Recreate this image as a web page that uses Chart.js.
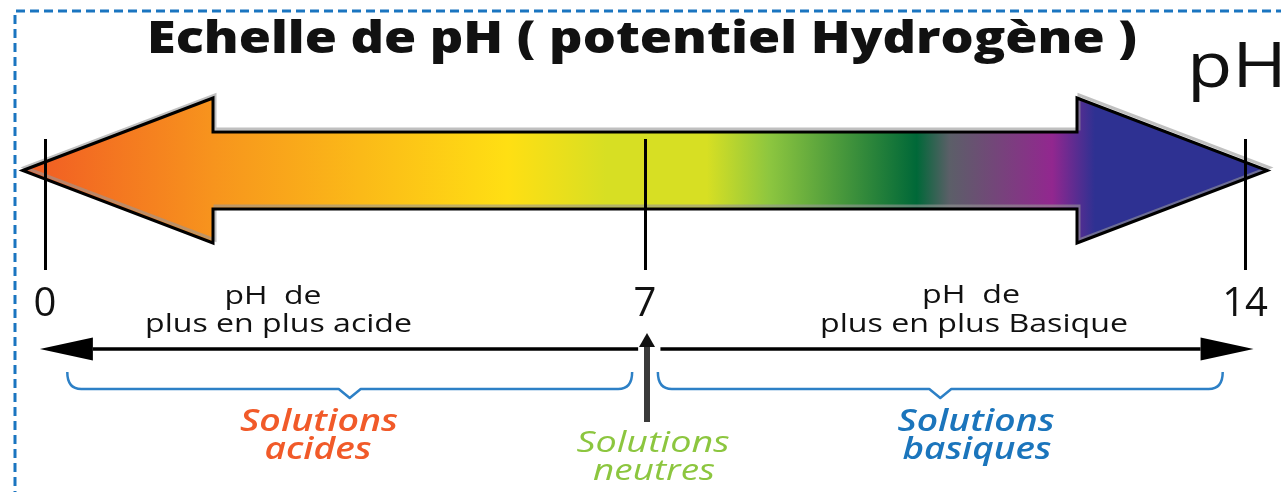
<!DOCTYPE html>
<html>
<head>
<meta charset="utf-8">
<script src="https://cdn.jsdelivr.net/npm/chart.js@4"></script>
<style>
html, body { margin: 0; padding: 0; background: #fff; overflow: hidden; }
#echelle { display: block; }
</style>
</head>
<body>
<canvas id="echelle" width="1281" height="492"></canvas>
<script>
// graduations de l'echelle
const phTicks = [0, 7, 14];
const phTickLabels = ["0", "7", "14"];
// couleurs du degrade le long de la fleche (valeur de pH -> couleur)
const stopPh = [-0.26, 1.96, 5.4, 6.55, 7.72, 8.45, 10.17, 10.55, 11.75, 12.25, 14.26];
const stopColors = ["#f15a24", "#f7941d", "#ffdf13", "#d7df23", "#d7df23", "#8dc63f", "#006838", "#5b5f68", "#92278f", "#2e3192", "#2e3192"];
// zones acide / basique
const zoneRanges = [[0, 7], [7, 14]];
const neutralPh = 7;
const zoneNames = [["Solutions", "acides"], ["Solutions", "neutres"], ["Solutions", "basiques"]];
const trendLabels = [["pH  de", "plus en plus acide"], ["pH  de", "plus en plus Basique"]];
const titre = "Echelle de pH ( potentiel Hydrogène )";

function texte(ctx, str, x, y, font, color, width, align) {
    ctx.save();
    ctx.font = font;
    ctx.fillStyle = color;
    ctx.textBaseline = "alphabetic";
    ctx.textAlign = align || "center";
    const w = ctx.measureText(str).width;
    ctx.translate(x, y);
    if (width) ctx.scale(width / w, 1);
    ctx.fillText(str, 0, 0);
    ctx.restore();
}

function flecheH(ctx, xFrom, xTo, y) {
    const dir = xTo > xFrom ? 1 : -1;
    const base = xTo - dir * 53;
    ctx.save();
    ctx.strokeStyle = "#000";
    ctx.lineWidth = 3.5;
    ctx.beginPath();
    ctx.moveTo(xFrom, y);
    ctx.lineTo(base, y);
    ctx.stroke();
    ctx.fillStyle = "#000";
    ctx.beginPath();
    ctx.moveTo(xTo, y);
    ctx.lineTo(base, y - 11.5);
    ctx.lineTo(base, y + 11.5);
    ctx.closePath();
    ctx.fill();
    ctx.restore();
}

function accolade(ctx, x1, x2) {
    const yTop = 372, yMid = 389, yTip = 398, r = 14;
    const cx = (x1 + x2) / 2;
    ctx.save();
    ctx.strokeStyle = "#2d80c6";
    ctx.lineWidth = 2.5;
    ctx.lineJoin = "round";
    ctx.beginPath();
    ctx.moveTo(x1, yTop);
    ctx.quadraticCurveTo(x1, yMid, x1 + r, yMid);
    ctx.lineTo(cx - 11, yMid);
    ctx.lineTo(cx, yTip);
    ctx.lineTo(cx + 11, yMid);
    ctx.lineTo(x2 - r, yMid);
    ctx.quadraticCurveTo(x2, yMid, x2, yTop);
    ctx.stroke();
    ctx.restore();
}

const echellePlugin = {
    id: "echelle",
    beforeDraw(chart) {
        const ctx = chart.ctx;
        const x = chart.scales.x;
        const a = chart.chartArea;

        // cadre pointille
        ctx.save();
        ctx.strokeStyle = "#1a75c0";
        ctx.lineWidth = 3;
        ctx.setLineDash([9, 5]);
        ctx.beginPath();
        ctx.moveTo(15, 500);
        ctx.lineTo(15, 11);
        ctx.lineTo(1300, 11);
        ctx.stroke();
        ctx.restore();

        // grande fleche degradee
        const xl = x.getPixelForValue(stopPh[0]);
        const xr = x.getPixelForValue(stopPh[stopPh.length - 1]);
        const bl = x.getPixelForValue(1.96);
        const br = x.getPixelForValue(12.04);
        const cy = a.top + 31.5, sh = 38.5, hh = 72.5;
        const grad = ctx.createLinearGradient(xl, 0, xr, 0);
        stopPh.forEach((p, i) => {
            const off = (x.getPixelForValue(p) - xl) / (xr - xl);
            grad.addColorStop(Math.min(1, Math.max(0, off)), stopColors[i]);
        });
        const path = () => {
            ctx.beginPath();
            ctx.moveTo(xl, cy);
            ctx.lineTo(bl, cy - hh);
            ctx.lineTo(bl, cy - sh);
            ctx.lineTo(br, cy - sh);
            ctx.lineTo(br, cy - hh);
            ctx.lineTo(xr, cy);
            ctx.lineTo(br, cy + hh);
            ctx.lineTo(br, cy + sh);
            ctx.lineTo(bl, cy + sh);
            ctx.lineTo(bl, cy + hh);
            ctx.closePath();
        };
        ctx.save();
        path();
        ctx.fillStyle = grad;
        ctx.fill();
        ctx.translate(2, -3);
        path();
        ctx.strokeStyle = "rgba(150,150,150,0.6)";
        ctx.lineWidth = 3;
        ctx.stroke();
        ctx.translate(-2, 3);
        path();
        ctx.strokeStyle = "#000";
        ctx.lineWidth = 3;
        ctx.lineJoin = "miter";
        ctx.stroke();
        ctx.restore();
    },
    afterDraw(chart) {
        const ctx = chart.ctx;
        const x = chart.scales.x;

        texte(ctx, titre, 642, 53, "800 45px 'Open Sans'", "#111", 990);
        texte(ctx, "pH", 1187, 87, "500 63px 'Open Sans'", "#111", 100, "left");

        // textes de tendance
        texte(ctx, trendLabels[0][0], 273, 304, "500 25px 'Open Sans'", "#111", 97);
        texte(ctx, trendLabels[0][1], 278.5, 332, "500 25px 'Open Sans'", "#111", 267);
        texte(ctx, trendLabels[1][0], 971, 303, "500 25px 'Open Sans'", "#111", 98);
        texte(ctx, trendLabels[1][1], 974, 332, "500 25px 'Open Sans'", "#111", 308);

        // fleches horizontales
        flecheH(ctx, x.getPixelForValue(6.92), x.getPixelForValue(-0.06), 349);
        flecheH(ctx, x.getPixelForValue(7.18), x.getPixelForValue(14.1), 349);

        // accolades
        accolade(ctx, x.getPixelForValue(zoneRanges[0][0] + 0.26), x.getPixelForValue(zoneRanges[0][1] - 0.15));
        accolade(ctx, x.getPixelForValue(zoneRanges[1][0] + 0.15), x.getPixelForValue(zoneRanges[1][1] - 0.26));

        // fleche neutre
        const xn = x.getPixelForValue(neutralPh) + 2;
        ctx.save();
        ctx.strokeStyle = "#3a3a3a";
        ctx.lineWidth = 6;
        ctx.beginPath();
        ctx.moveTo(xn, 422);
        ctx.lineTo(xn, 344);
        ctx.stroke();
        ctx.fillStyle = "#111";
        ctx.beginPath();
        ctx.moveTo(xn, 333);
        ctx.lineTo(xn - 8, 347);
        ctx.lineTo(xn + 8, 347);
        ctx.closePath();
        ctx.fill();
        ctx.restore();

        // noms des zones
        texte(ctx, zoneNames[0][0], 319, 431, "italic 600 30px 'Open Sans'", "#f15a29", 158);
        texte(ctx, zoneNames[0][1], 318, 459, "italic 600 30px 'Open Sans'", "#f15a29", 107);
        texte(ctx, zoneNames[1][0], 653, 452, "italic 30px 'Open Sans'", "#8cc63f", 153);
        texte(ctx, zoneNames[1][1], 654, 480, "italic 30px 'Open Sans'", "#8cc63f", 122);
        texte(ctx, zoneNames[2][0], 976, 431, "italic 600 30px 'Open Sans'", "#1b75bc", 157);
        texte(ctx, zoneNames[2][1], 977, 459, "italic 600 30px 'Open Sans'", "#1b75bc", 149);
    }
};

new Chart(document.getElementById("echelle"), {
    type: "scatter",
    data: {
        datasets: [{
            data: phTicks.map(v => ({ x: v, y: 0 })),
            pointRadius: 0,
            showLine: false
        }]
    },
    options: {
        responsive: false,
        animation: false,
        layout: { padding: { left: 45, right: 36, top: 139, bottom: 0 } },
        plugins: {
            legend: { display: false },
            tooltip: { enabled: false },
            title: { display: false }
        },
        scales: {
            x: {
                type: "linear",
                min: 0,
                max: 14,
                afterBuildTicks: s => { s.ticks = phTicks.map(v => ({ value: v })); },
                afterFit: s => { s.height = 222; },
                grid: { color: "#000", lineWidth: 3, drawTicks: false },
                border: { display: false },
                ticks: {
                    autoSkip: false,
                    maxRotation: 0,
                    padding: 11,
                    color: "#111",
                    font: { family: "Open Sans", size: 40 },
                    callback: v => phTickLabels[phTicks.indexOf(v)]
                }
            },
            y: { display: false, min: 0, max: 1 }
        }
    },
    plugins: [echellePlugin]
});
</script>
</body>
</html>
